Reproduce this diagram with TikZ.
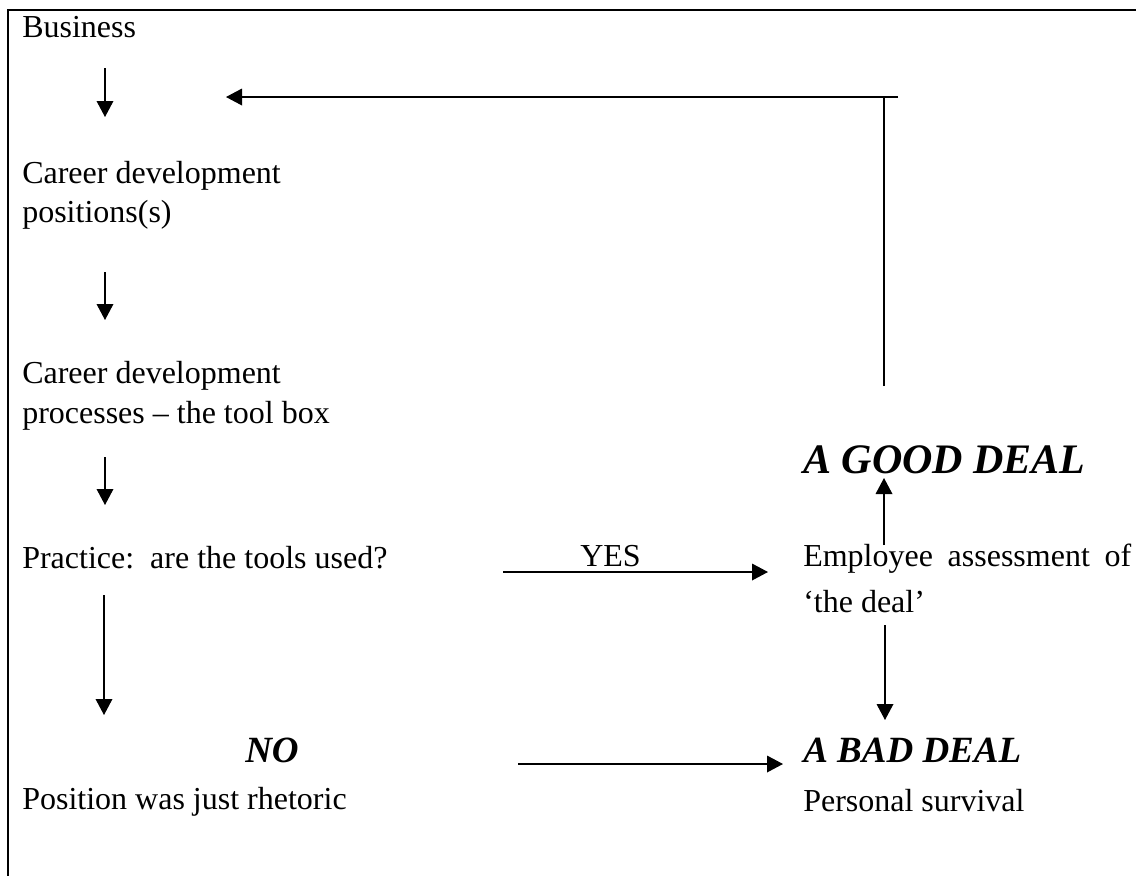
\documentclass[tikz,border=0pt]{standalone}
\usepackage{fontspec}
\setmainfont{Liberation Serif}
\usetikzlibrary{arrows.meta}
\begin{document}
\begin{tikzpicture}[x=0.75pt,y=-0.75pt,
  txt/.style={anchor=base west,inner sep=0pt,font=\fontsize{24}{29}\selectfont},
  dealbig/.style={anchor=base west,inner sep=0pt,font=\fontsize{31.5}{38}\selectfont\bfseries\itshape},
  dealsmall/.style={anchor=base west,inner sep=0pt,font=\fontsize{27.75}{33}\selectfont\bfseries\itshape},
  flow/.style={line width=1pt,-{Triangle[length=12pt,width=12.5pt]}},
  plain/.style={line width=1pt},
  frame/.style={line width=1.5pt}]
\useasboundingbox (0,0) rectangle (1136,876);

% open frame: top and left edges
\draw[frame] (1136,10) -- (8,10) -- (8,876);

% left column
\node[txt] (business) at (22,37) {Business};
\node[txt] (pos1) at (22,183) {Career development};
\node[txt] (pos2) at (22,222) {positions(s)};
\node[txt] (proc1) at (22,383) {Career development};
\node[txt] (proc2) at (22,423) {processes – the tool box};
\node[txt] (practice) at (22,568) {Practice:\ \ are the tools used?};
\node[dealsmall] (no) at (245,762) {NO};
\node[txt] (rhetoric) at (22,809) {Position was just rhetoric};

% right column
\node[dealbig] (good) at (803,473) {A GOOD DEAL};
\node[txt] (assess) at (803,566) {\hbox to 246pt{Employee\hfill assessment\hfill of}};
\node[txt] (thedeal) at (803,612) {‘the deal’};
\node[dealsmall] (bad) at (803,762) {A BAD DEAL};
\node[txt] (survival) at (803,811) {Personal survival};

% middle label
\node[txt] (yes) at (580,566) {YES};

% arrow end points
\coordinate (a1s) at (105,68);   \coordinate (a1e) at (105,117);
\coordinate (a2s) at (105,272);  \coordinate (a2e) at (105,320);
\coordinate (a3s) at (105,457);  \coordinate (a3e) at (105,505);
\coordinate (a4s) at (104,595);  \coordinate (a4e) at (104,715);
\coordinate (yss) at (503,572);  \coordinate (yse) at (768,572);
\coordinate (nos) at (518,764);  \coordinate (noe) at (783,764);
\coordinate (ups) at (884,545);  \coordinate (upe) at (884,478);
\coordinate (dns) at (885,625);  \coordinate (dne) at (885,720);
\coordinate (fbb) at (884,386);  \coordinate (fbc) at (884,97);
\coordinate (fbs) at (898,97);   \coordinate (fbe) at (226,97);

% flow arrows
\draw[flow] (a1s) -- (a1e);
\draw[flow] (a2s) -- (a2e);
\draw[flow] (a3s) -- (a3e);
\draw[flow] (a4s) -- (a4e);
\draw[flow] (yss) -- (yse);
\draw[flow] (nos) -- (noe);
\draw[flow] (ups) -- (upe);
\draw[flow] (dns) -- (dne);

% feedback loop back to the top
\draw[plain] (fbb) -- (fbc);
\draw[flow] (fbs) -- (fbe);
\end{tikzpicture}
\end{document}
